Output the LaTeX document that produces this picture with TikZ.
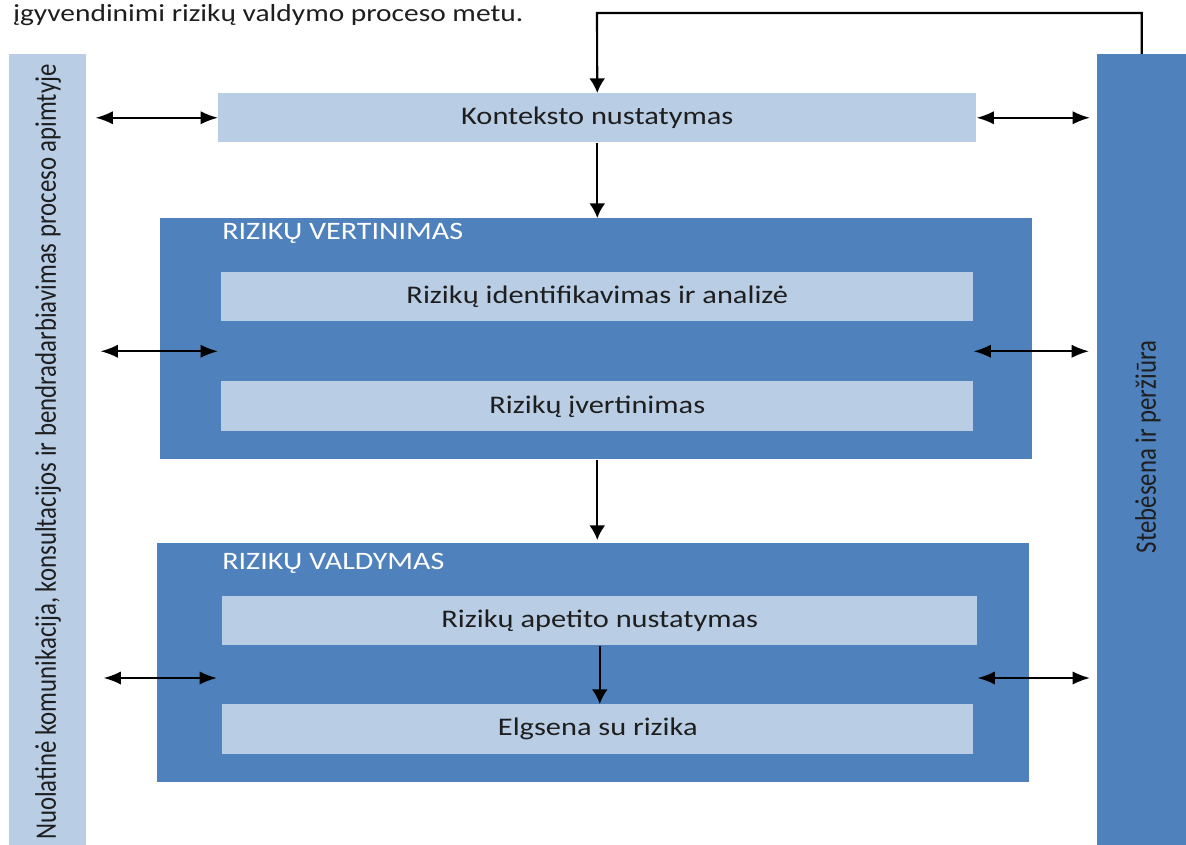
\documentclass[tikz,border=0pt]{standalone}
\usepackage{fontspec}
\setmainfont{Carlito}
\usetikzlibrary{arrows.meta,calc}

\definecolor{dark_blue}{HTML}{4F81BD}
\definecolor{light_blue}{HTML}{B9CDE5}
\definecolor{ink}{HTML}{1E1E1E}
\newcommand{\px}{0.75pt}
\newcommand{\wide}[1]{\scalebox{1.2}[1]{#1}}
\newcommand{\tall}[1]{\scalebox{1}[1.2]{#1}}

\begin{document}
\begin{tikzpicture}[x=0.75pt, y=-0.75pt]
        \tikzstyle{light_box}  = [shape = rectangle, fill = light_blue, anchor = north west, inner sep = 0pt,
                                  text = ink, font = \fontsize{19}{22}\selectfont]
        \tikzstyle{dark_box}   = [shape = rectangle, fill = dark_blue, anchor = north west, inner sep = 0pt]
        \tikzstyle{box_title}  = [anchor = base west, inner sep = 0pt, text = white, font = \fontsize{18.8}{20}\selectfont]
        \tikzstyle{bar_text}   = [rotate = 90, inner sep = 0pt, text = ink]
        \tikzstyle{arr_h}      = [{Latex[length=13pt, width=10pt]}-{Latex[length=13pt, width=10pt]}, line width = 1.6pt]
        \tikzstyle{arr_v}      = [-{Latex[length=11pt, width=12pt]}, line width = 1.6pt]

        \useasboundingbox (0,0) rectangle (1186,845);

        \node[anchor = base west, inner sep = 0pt, text = ink, font = \fontsize{18.4}{20}\selectfont]
          at (13,22) (intro) {\wide{įgyvendinimi rizikų valdymo proceso metu.}};

        % side bars
        \node[light_box, minimum width = 77*\px, minimum height = 791*\px] at (9,54) (comm) {};
        \node[dark_box, minimum width = 89*\px, minimum height = 791*\px] at (1097,54) (mon) {};
        \node[bar_text, font = \fontsize{18.6}{20}\selectfont] at (48,452) (comm_txt)
          {\tall{Nuolatinė komunikacija, konsultacijos ir bendradarbiavimas proceso apimtyje}};
        \node[bar_text, font = \fontsize{18.6}{20}\selectfont] at (1148,447) (mon_txt)
          {\tall{Stebėsena ir peržiūra}};

        \node[light_box, minimum width = 758*\px, minimum height = 49*\px] at (218,93) (ctx) {\wide{Konteksto nustatymas}};

        % rizikų vertinimas
        \node[dark_box, minimum width = 872*\px, minimum height = 241*\px] at (160,218) (rv) {};
        \node[box_title] at (222,240) (rv_title) {\wide{RIZIKŲ VERTINIMAS}};
        \node[light_box, minimum width = 752*\px, minimum height = 49*\px] at (221,272) (rv_id) {\wide{Rizikų identifikavimas ir analizė}};
        \node[light_box, minimum width = 752*\px, minimum height = 50*\px] at (221,381) (rv_est) {\wide{Rizikų įvertinimas}};

        % rizikų valdymas
        \node[dark_box, minimum width = 872*\px, minimum height = 239*\px] at (157,543) (rval) {};
        \node[box_title] at (222,569) (rval_title) {\wide{RIZIKŲ VALDYMAS}};
        \node[light_box, minimum width = 755*\px, minimum height = 49*\px] at (222,596) (rval_app) {\wide{Rizikų apetito nustatymas}};
        \node[light_box, minimum width = 751*\px, minimum height = 50*\px] at (222,704) (rval_el) {\wide{Elgsena su rizika}};

        \coordinate (fb_top) at (597,13);
        \coordinate (rv_mid) at ($(rv_id.south)!0.5!(rv_est.north)$);
        \coordinate (rval_mid) at (0,678);

        \draw[arr_v]
          (mon.north) |- (fb_top) -- (ctx.north);
        \draw[arr_v] (ctx.south) -- (ctx.south |- rv.north);
        \draw[arr_v] (ctx.south |- rv.south) -- ([yshift=3*\px]ctx.south |- rval.north);
        \draw[arr_v] (rval_app.south) -- (rval_app.south |- rval_el.north);

        \draw[arr_h, shorten <= 9*\px] (comm.east |- ctx.west) -- (ctx.west);
        \draw[arr_h, shorten >= 7*\px] (ctx.east) -- (mon.west |- ctx.east);
        \draw[arr_h, shorten <= 14*\px, shorten >= 3*\px] (comm.east |- rv_mid) -- (rv_id.west |- rv_mid);
        \draw[arr_h, shorten >= 8*\px] (rv_id.east |- rv_mid) -- (mon.west |- rv_mid);
        \draw[arr_h, shorten <= 17*\px, shorten >= 5*\px] (comm.east |- rval_mid) -- (rval_app.west |- rval_mid);
        \draw[arr_h, shorten >= 7*\px] (rval_app.east |- rval_mid) -- (mon.west |- rval_mid);
      \end{tikzpicture}
\end{document}
